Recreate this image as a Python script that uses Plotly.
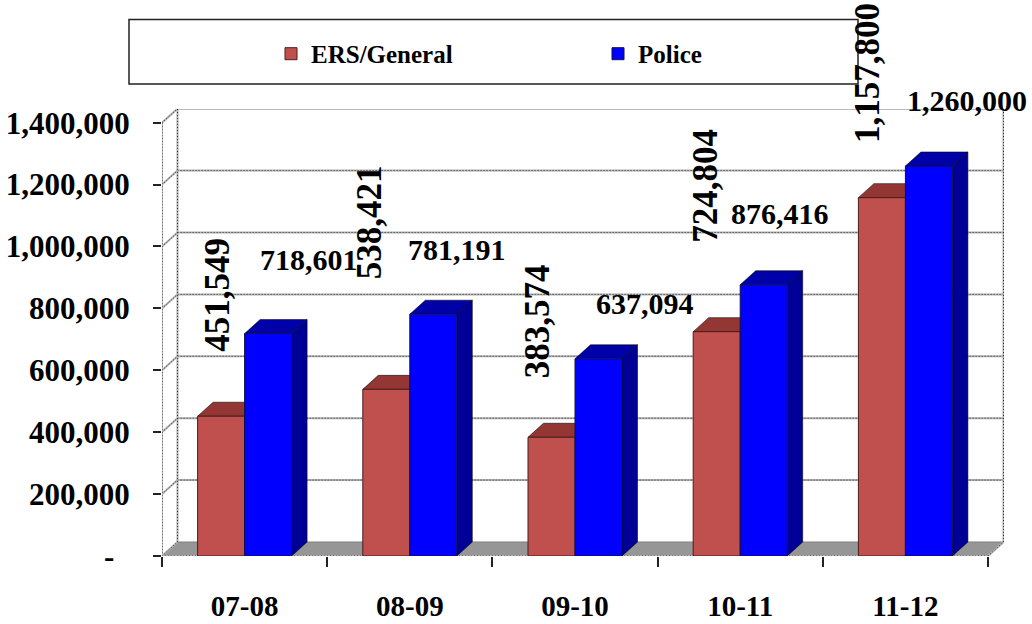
import plotly.graph_objects as go

categories = ["07-08", "08-09", "09-10", "10-11", "11-12"]
ers_general = [451549, 538421, 383574, 724804, 1157800]
police = [718601, 781191, 637094, 876416, 1260000]
y_ticks = [0, 200000, 400000, 600000, 800000, 1000000, 1200000, 1400000]
y_tick_text = ["-\u00a0\u00a0", "200,000", "400,000", "600,000", "800,000",
               "1,000,000", "1,200,000", "1,400,000"]

ers_label_shift = [(-27, 121), (-40, 167), (-38, 116), (-35, 146), (-38, 125)]
police_label_shift = [(64, 74), (47, 65), (70, 55), (40, 71), (62, 66)]

# pixel geometry of the plot
W, H = 1032, 624
LEFT, FLOOR_Y, TOP_Y, RIGHT = 162.0, 555.7, 109.0, 1004.0
CAT_PX = 165.2
UNIT_PX = 61.86 / 200000
DX = 15.5 / CAT_PX
DY = 14 / UNIT_PX
BAR_W = 47.0 / CAT_PX
X0 = -0.5
X1 = X0 + (RIGHT - LEFT) / CAT_PX
Y1 = (FLOOR_Y - TOP_Y) / UNIT_PX
XEND = X0 + len(categories)
FONT = "Liberation Serif"

fig = go.Figure()


def poly(xs, ys, fill, line="rgba(0,0,0,0.55)"):
    fig.add_trace(go.Scatter(x=xs, y=ys, mode="lines", fill="toself", fillcolor=fill,
                             line=dict(color=line, width=1), showlegend=False,
                             hoverinfo="skip", xaxis="x", yaxis="y"))


def wall_line(xs, ys):
    fig.add_trace(go.Scatter(x=xs, y=ys, mode="lines", line=dict(color="#b0b0b0", width=2),
                             showlegend=False, hoverinfo="skip", xaxis="x", yaxis="y"))
    fig.add_trace(go.Scatter(x=xs, y=ys, mode="lines",
                             line=dict(color="#333333", width=1, dash="1px,2px"),
                             showlegend=False, hoverinfo="skip", xaxis="x", yaxis="y"))


# floor
poly([X0, X0 + DX, XEND + DX, XEND, X0], [0, DY, DY, 0, 0], "#969696", "#808080")

# back wall and side wall
for t in y_ticks[1:]:
    wall_line([X0, X0 + DX, XEND + DX], [t, t + DY, t + DY])
wall_line([X0, X0], [0, y_ticks[-1]])
wall_line([X0 + DX, X0 + DX], [DY, y_ticks[-1] + DY])
wall_line([XEND + DX, XEND + DX], [DY, y_ticks[-1] + DY])
wall_line([X0, X0 + DX], [0, DY])
wall_line([X0, XEND], [0, 0])
wall_line([XEND, XEND + DX], [0, DY])

# bar depth faces, from the values
for i in range(len(categories)):
    for v, a, b, top, side in [
        (ers_general[i], i - BAR_W, i, "#943634", "#7a2c2a"),
        (police[i], i, i + BAR_W, "#0000a8", "#000096"),
    ]:
        poly([a, a + DX, b + DX, b, a], [v, v + DY, v + DY, v, v], top)
        poly([b, b + DX, b + DX, b, b], [0, DY, v + DY, v, 0], side)

# front faces on the overlay axes
fig.add_trace(go.Bar(x=list(range(5)), y=ers_general, name="ERS/General", xaxis="x2", yaxis="y2",
                     marker=dict(color="#C0504D", line=dict(color="#4a1c1a", width=1))))
fig.add_trace(go.Bar(x=list(range(5)), y=police, name="Police", xaxis="x2", yaxis="y2",
                     marker=dict(color="#0000FF", line=dict(color="#10104a", width=1))))

annotations = []
for i in range(5):
    annotations.append(dict(x=i, y=ers_general[i], xref="x2", yref="y2",
                            text=f"{ers_general[i]:,}", textangle=-90, showarrow=False,
                            xshift=ers_label_shift[i][0], yshift=ers_label_shift[i][1],
                            font=dict(family=FONT, size=35, color="black", weight="bold")))
    annotations.append(dict(x=i, y=police[i], xref="x2", yref="y2",
                            text=f"{police[i]:,}", showarrow=False,
                            xshift=police_label_shift[i][0], yshift=police_label_shift[i][1],
                            font=dict(family=FONT, size=30, color="black", weight="bold")))

fig.update_layout(
    width=W, height=H, autosize=False,
    margin=dict(l=LEFT, r=W - RIGHT, t=TOP_Y, b=H - FLOOR_Y, pad=0, autoexpand=False),
    paper_bgcolor="white", plot_bgcolor="rgba(0,0,0,0)",
    barmode="group", bargap=1 - 2 * BAR_W, bargroupgap=0,
    annotations=annotations,
    xaxis=dict(range=[X0, X1], tickmode="array", tickvals=[X0 + k for k in range(6)],
               ticktext=[""] * 6, ticks="outside", ticklen=10, tickwidth=1.5, tickcolor="#222",
               showgrid=False, zeroline=False, showline=False, automargin=False),
    yaxis=dict(range=[0, Y1], tickmode="array", tickvals=y_ticks, ticktext=y_tick_text,
               ticks="outside", ticklen=8, tickwidth=1.5, tickcolor="#222",
               ticklabelstandoff=17, automargin=False,
               tickfont=dict(family=FONT, size=31, color="black", weight="bold"),
               showgrid=False, zeroline=False, showline=False),
    xaxis2=dict(range=[X0, X1], overlaying="x", anchor="y2", tickmode="array",
                tickvals=list(range(5)), ticktext=categories, ticks="", ticklabelstandoff=30,
                automargin=False,
                tickfont=dict(family=FONT, size=29, color="black", weight="bold"),
                showgrid=False, zeroline=False, showline=False),
    yaxis2=dict(range=[0, Y1], overlaying="y", anchor="x2", showticklabels=False, ticks="",
                automargin=False, showgrid=False, zeroline=False, showline=False),
    legend=dict(orientation="h", x=(271 - LEFT) / (RIGHT - LEFT), y=1 + (TOP_Y - 31) / (FLOOR_Y - TOP_Y),
                xanchor="left", yanchor="top", entrywidth=282, entrywidthmode="pixels",
                bgcolor="rgba(0,0,0,0)", traceorder="normal", itemwidth=30,
                font=dict(family=FONT, size=25, color="black", weight="bold")),
    shapes=[dict(type="rect", xref="paper", yref="paper",
                 x0=(129 - LEFT) / (RIGHT - LEFT), x1=(858 - LEFT) / (RIGHT - LEFT),
                 y0=1 + (TOP_Y - 84) / (FLOOR_Y - TOP_Y), y1=1 + (TOP_Y - 19.5) / (FLOOR_Y - TOP_Y),
                 line=dict(color="#222", width=1.5), layer="below")],
)

fig.write_html("out.html", config={"displayModeBar": False},
               post_script="document.body.style.margin='0';")
